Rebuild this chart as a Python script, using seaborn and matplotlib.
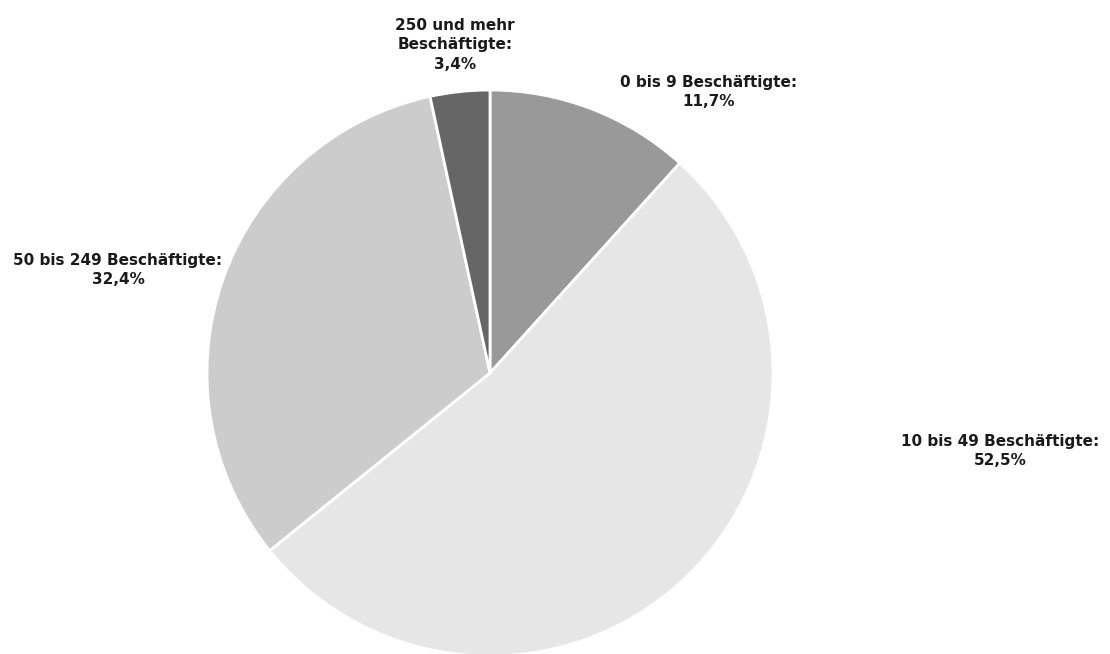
import matplotlib
matplotlib.use("Agg")
import matplotlib.pyplot as plt
import seaborn as sns

sns.set_theme(style="white")
plt.rcParams["font.family"] = ["DejaVu Sans"]

# Daten
kategorien = ["0 bis 9 Beschäftigte:", "10 bis 49 Beschäftigte:",
              "50 bis 249 Beschäftigte:", "250 und mehr\nBeschäftigte:"]
anteile = [11.7, 52.5, 32.4, 3.4]
farben = ["#999999", "#e6e6e6", "#cccccc", "#666666"]

# Beschriftungspositionen (Pixel, y von oben)
label_pos = [(709, 92), (1000, 451), (118, 270), (455, 45)]

fig = plt.figure(figsize=(11.10, 6.54), dpi=100)
ax = fig.add_axes([0, 0, 1, 1])
ax.set_xlim(0, 1110)
ax.set_ylim(0, 654)
ax.set_aspect("equal")
ax.axis("off")

ax.pie(anteile, colors=farben, startangle=90, counterclock=False,
       center=(490, 654 - 373), radius=283,
       wedgeprops=dict(edgecolor="white", linewidth=2))

for kat, wert, (x, y) in zip(kategorien, anteile, label_pos):
    txt = f"{kat}\n{wert:.1f}%".replace(".", ",")
    ax.text(x, 654 - y, txt, ha="center", va="center", fontsize=11,
            fontweight="bold", color="#1a1a1a", linespacing=1.35)

ax.set_xlim(0, 1110)
ax.set_ylim(0, 654)
fig.savefig("out.png", dpi=100)
